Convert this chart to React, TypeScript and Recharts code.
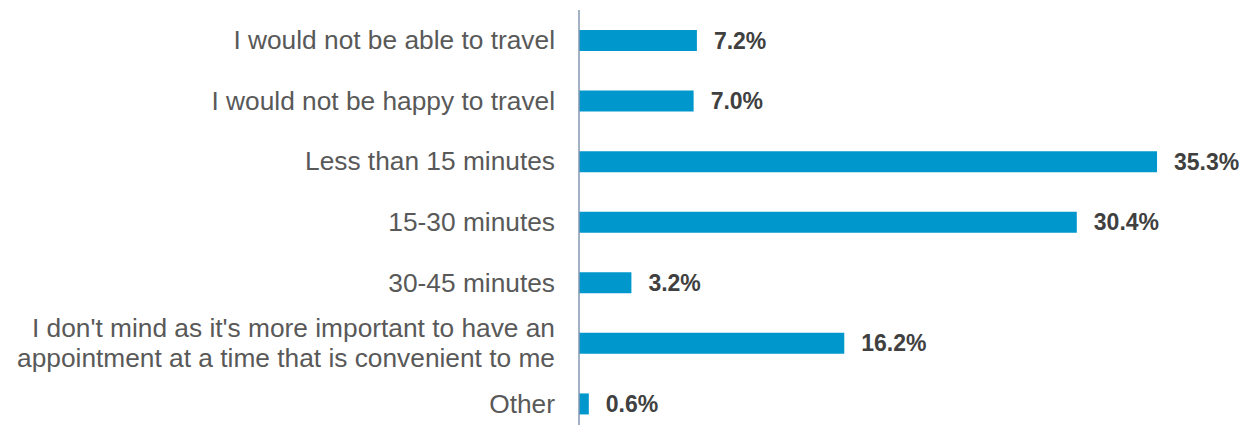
import { BarChart, Bar, XAxis, YAxis, LabelList } from "recharts";

const categories = [
  "I would not be able to travel",
  "I would not be happy to travel",
  "Less than 15 minutes",
  "15-30 minutes",
  "30-45 minutes",
  "I don't mind as it's more important to have an\nappointment at a time that is convenient to me",
  "Other",
];
const shares = [7.2, 7.0, 35.3, 30.4, 3.2, 16.2, 0.6];

const data = categories.map((name, i) => ({ name, value: shares[i] }));

const FONT = "'Liberation Sans', Arial, sans-serif";

function CategoryTick(props: any) {
  const { x, y, payload } = props;
  const lines = String(payload.value).split("\n");
  const lineHeight = 30;
  const start = -((lines.length - 1) * lineHeight) / 2;
  return (
    <text x={x - 16} y={y} textAnchor="end" fill="#595959" fontSize={26.3} fontFamily={FONT}>
      {lines.map((line, i) => (
        <tspan key={i} x={x - 16} dy={i === 0 ? start + 9 : lineHeight}>
          {line}
        </tspan>
      ))}
    </text>
  );
}

function ValueLabel(props: any) {
  const { x, y, width, height, value } = props;
  return (
    <text
      x={x + width + 17}
      y={y + height / 2 + 8}
      fill="#404040"
      fontSize={23}
      fontWeight="bold"
      fontFamily={FONT}
    >
      {`${Number(value).toFixed(1)}%`}
    </text>
  );
}

export default function App() {
  return (
    <div
      style={{
        position: "absolute",
        left: 0,
        top: 0,
        width: 1243,
        height: 425,
        overflow: "hidden",
        background: "#fff",
      }}
    >
      <BarChart
        width={1243}
        height={434}
        data={data}
        layout="vertical"
        margin={{ top: 10, right: 9, left: 0, bottom: 0 }}
      >
        <XAxis type="number" domain={[0, 40]} hide />
        <YAxis
          type="category"
          dataKey="name"
          width={579}
          tickLine={false}
          axisLine={{ stroke: "#8497b0", strokeWidth: 1.5 }}
          tick={<CategoryTick />}
          interval={0}
        />
        <Bar dataKey="value" fill="#0097cc" barSize={21} isAnimationActive={false}>
          <LabelList dataKey="value" content={<ValueLabel />} />
        </Bar>
      </BarChart>
    </div>
  );
}
